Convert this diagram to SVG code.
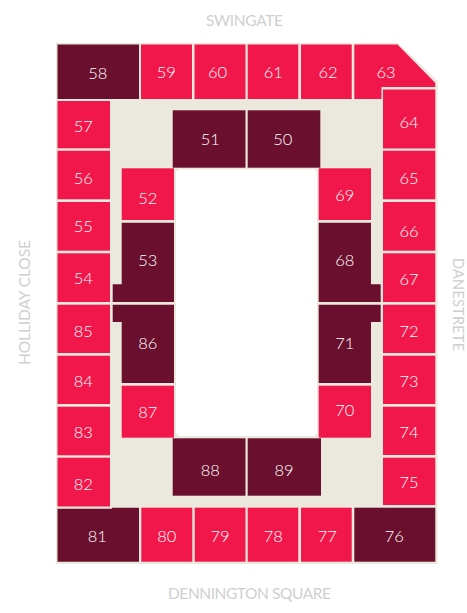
<svg xmlns="http://www.w3.org/2000/svg" width="467" height="613" viewBox="0 0 467 613">
<style>
.r{fill:#f2174a}
.d{fill:#6a102e}
.n{font:300 16.5px Lato,"Liberation Sans",sans-serif;text-anchor:middle;fill:#fff}
.s{font:400 15.5px Lato,"Liberation Sans",sans-serif;text-anchor:middle;fill:#cfcfcf}
</style>
<rect width="467" height="613" fill="#fff"/>
<path id="ground" fill="#ebe8de" d="M56 43H398L437.500 81V564H56Z"/>
<rect id="pitch" x="176" y="169.500" width="141" height="266.500" fill="#fff"/>
<path fill="#ebe8de" d="M172 167h6v4h-6zM315 166h7v5h-7zM172 434h6v4h-6zM315 434h8v4h-8z"/>
<g id="stand-labels">
<text class="s" x="244.500" y="26" textLength="77">SWINGATE</text>
<text class="s" x="249.500" y="599" textLength="163">DENNINGTON SQUARE</text>
<text class="s" transform="translate(30 302.500) rotate(-90)" textLength="125">HOLLIDAY CLOSE</text>
<text class="s" style="font-size:14.500px" transform="translate(453 304.500) rotate(90)" textLength="93">DANESTRETE</text>
</g>
<g id="b58"><rect class="d" x="57.500" y="44.500" width="81.500" height="54.500"/><text class="n" x="97.800" y="79">58</text></g>
<g id="b59"><rect class="r" x="141" y="44.500" width="51" height="54.500"/><text class="n" x="166.300" y="78.300">59</text></g>
<g id="b60"><rect class="r" x="194.500" y="44.500" width="51" height="54.500"/><text class="n" x="217.500" y="78.300">60</text></g>
<g id="b61"><rect class="r" x="247.700" y="44.500" width="50.600" height="54.500"/><text class="n" x="273.300" y="78.300">61</text></g>
<g id="b62"><rect class="r" x="301" y="44.500" width="50.700" height="54.500"/><text class="n" x="328" y="78.300">62</text></g>
<g id="b63"><path class="r" d="M354.300 44.500H397.500L435.300 83V87H381.500V99H354.300Z"/><text class="n" x="386" y="78.300">63</text></g>
<g id="b64"><rect class="r" x="383" y="89.500" width="52.300" height="59"/><text class="n" x="409" y="128">64</text></g>
<g id="b65"><rect class="r" x="383" y="150.700" width="52.300" height="48.600"/><text class="n" x="409" y="184">65</text></g>
<g id="b66"><rect class="r" x="383" y="202" width="52.300" height="48.700"/><text class="n" x="409" y="236.700">66</text></g>
<g id="b67"><rect class="r" x="383" y="253.300" width="52.300" height="48.700"/><text class="n" x="409" y="285.300">67</text></g>
<g id="b72"><rect class="r" x="383" y="304.700" width="52.300" height="48.300"/><text class="n" x="409" y="337.300">72</text></g>
<g id="b73"><rect class="r" x="383" y="355.700" width="52.300" height="48.300"/><text class="n" x="409" y="387.300">73</text></g>
<g id="b74"><rect class="r" x="383" y="406.700" width="52.300" height="48.300"/><text class="n" x="409" y="438.300">74</text></g>
<g id="b75"><rect class="r" x="383" y="457.700" width="52.300" height="47.300"/><text class="n" x="409" y="488.300">75</text></g>
<g id="b76"><rect class="d" x="354.300" y="507.700" width="81" height="54"/><text class="n" x="394.300" y="542.300">76</text></g>
<g id="b77"><rect class="r" x="301" y="507.700" width="50.700" height="54"/><text class="n" x="327.300" y="542.300">77</text></g>
<g id="b78"><rect class="r" x="247.700" y="507.700" width="50.600" height="54"/><text class="n" x="273.300" y="542.300">78</text></g>
<g id="b79"><rect class="r" x="194.700" y="507.700" width="50.800" height="54"/><text class="n" x="220" y="542.300">79</text></g>
<g id="b80"><rect class="r" x="141.300" y="507.700" width="51" height="54"/><text class="n" x="166.700" y="542.300">80</text></g>
<g id="b81"><path class="d" d="M57.500 508.700H112V507.700H139V561.700H57.500Z"/><text class="n" x="97.300" y="542.300">81</text></g>
<g id="b57"><rect class="r" x="57.500" y="101" width="52.500" height="47.300"/><text class="n" x="83.300" y="132">57</text></g>
<g id="b56"><rect class="r" x="57.500" y="150.700" width="52.500" height="48.600"/><text class="n" x="83.300" y="184">56</text></g>
<g id="b55"><rect class="r" x="57.500" y="202" width="52.500" height="48.700"/><text class="n" x="83.300" y="232.300">55</text></g>
<g id="b54"><rect class="r" x="57.500" y="253.300" width="52.500" height="48.700"/><text class="n" x="83.300" y="284.300">54</text></g>
<g id="b85"><rect class="r" x="57.500" y="304.700" width="52.500" height="48.300"/><text class="n" x="83.300" y="337.300">85</text></g>
<g id="b84"><rect class="r" x="57.500" y="355.700" width="52.500" height="48.300"/><text class="n" x="83.300" y="387.300">84</text></g>
<g id="b83"><rect class="r" x="57.500" y="406.700" width="52.500" height="48.600"/><text class="n" x="83.300" y="438.300">83</text></g>
<g id="b82"><rect class="r" x="57.500" y="457.700" width="52.500" height="48.800"/><text class="n" x="83.300" y="490">82</text></g>
<g id="b51"><rect class="d" x="172.700" y="110.300" width="72.800" height="57.400"/><text class="n" x="210.300" y="145.300">51</text></g>
<g id="b50"><rect class="d" x="247.700" y="110.300" width="72.600" height="57.400"/><text class="n" x="282.700" y="145.300">50</text></g>
<g id="b52"><rect class="r" x="121.700" y="168.300" width="52.300" height="51.700"/><text class="n" x="147.700" y="204">52</text></g>
<g id="b53"><path class="d" d="M121.700 222.700H174V302H112.700V284.300H121.700Z"/><text class="n" x="147.700" y="266.300">53</text></g>
<g id="b86"><path class="d" d="M112.700 304.700H174V383H121.700V322H112.700Z"/><text class="n" x="147.700" y="349.300">86</text></g>
<g id="b87"><rect class="r" x="121.700" y="385.700" width="52.300" height="52"/><text class="n" x="147.700" y="418">87</text></g>
<g id="b88"><rect class="d" x="172.700" y="438.300" width="72.800" height="57.400"/><text class="n" x="210.300" y="476.300">88</text></g>
<g id="b89"><rect class="d" x="247.700" y="438.300" width="73.300" height="57.400"/><text class="n" x="284" y="476.300">89</text></g>
<g id="b69"><rect class="r" x="318.700" y="168.300" width="52.300" height="51.700"/><text class="n" x="344.700" y="201.300">69</text></g>
<g id="b68"><path class="d" d="M318.700 222.700H371V284.300H380.700V302H318.700Z"/><text class="n" x="344.700" y="266.300">68</text></g>
<g id="b71"><path class="d" d="M318.700 304.700H380.700V322H371V383H318.700Z"/><text class="n" x="344.700" y="349.300">71</text></g>
<g id="b70"><rect class="r" x="318.700" y="385.700" width="52.300" height="52"/><text class="n" x="344.700" y="416">70</text></g>
</svg>
